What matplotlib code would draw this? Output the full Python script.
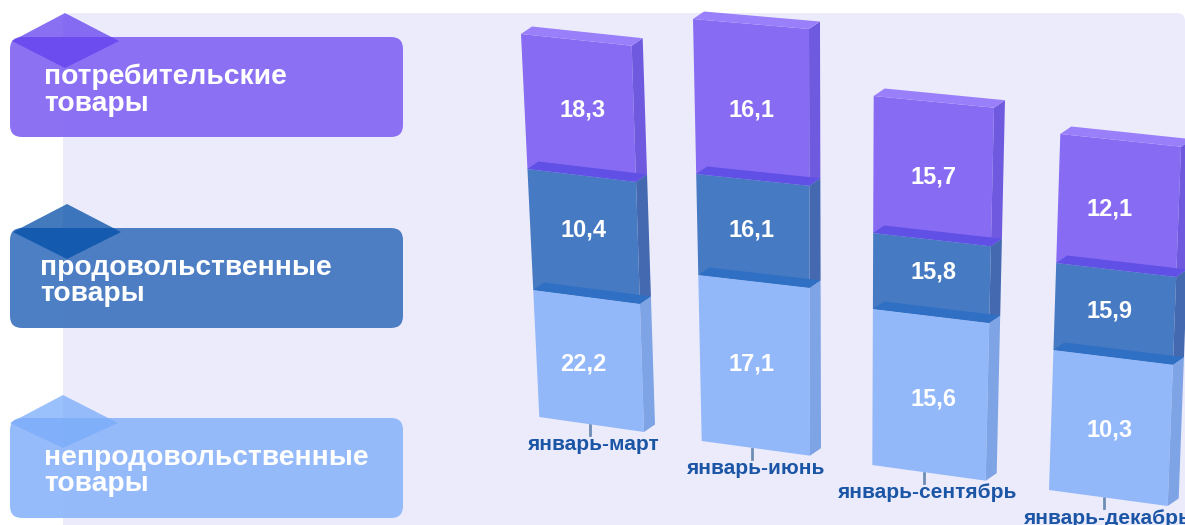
import matplotlib
matplotlib.use("Agg")
import matplotlib.pyplot as plt
from matplotlib.patches import FancyBboxPatch, Polygon
import numpy as np

plt.rcParams["font.family"] = ["Liberation Sans", "DejaVu Sans"]

periods = ["январь-март", "январь-июнь", "январь-сентябрь", "январь-декабрь"]
series_names = ["непродовольственные\nтовары", "продовольственные\nтовары", "потребительские\nтовары"]

# printed values, bottom segment to top segment
non_food = ["22,2", "17,1", "15,6", "10,3"]
food = ["10,4", "16,1", "15,8", "15,9"]
consumer = ["18,3", "16,1", "15,7", "12,1"]

# the source bars are not drawn to scale with their labels, so the heights
# are read off the picture separately (pixels on the left edge)
non_food_height = [127, 166, 156, 140]
food_height = [121, 101, 76, 87]
consumer_height = [135, 155, 137, 129]

# bar layout
base_y = [417, 441, 465, 490]
left_bottom = [539.3, 701.7, 872.3, 1049]
left_top = [521, 693, 873.7, 1060.3]
width_bottom = [104.7, 108.3, 113.4, 118.7]
width_top = [110.7, 116, 120.3, 120.7]
slant_bottom = [15, 14.7, 15.7, 16]
slant_top = [11.7, 10, 11.7, 12.7]
depth_x, depth_y = 11, -7.5

label_x = [583, 752, 933, 1110]
label_y = [[364, 230, 110], [364, 230, 110], [399, 272, 177], [430, 311, 209]]
period_x = [593, 755, 927, 1107]
period_y = [445, 468, 493, 519]

front_colors = ["#92B8FA", "#467AC2", "#876BF3"]
side_colors = ["#7EA4E5", "#4469B0", "#6F59DF"]
top_colors = ["#2F6FC4", "#6050E6", "#9A7FFB"]

box_tops = [418, 228, 37]
text_left = [44, 40, 44]
diamonds = [(63, 395, 448, 10, 118, 423), (67, 204, 259, 13, 121, 232), (65, 13, 68, 12, 119, 41)]
diamond_colors = ["#7AACFB", "#024EA7", "#6240EE"]

fig = plt.figure(figsize=(11.85, 5.25), dpi=100)
ax = fig.add_axes([0, 0, 1, 1])
ax.set_xlim(0, 1185)
ax.set_ylim(525, 0)
ax.axis("off")

ax.add_patch(FancyBboxPatch((71, 21), 1106, 540, boxstyle="round,pad=8,rounding_size=8",
                            fc="#ECEBFB", ec="none", zorder=1))

# legend boxes
for i, name in enumerate(series_names):
    ax.add_patch(FancyBboxPatch((22, box_tops[i] + 12), 369, 76, boxstyle="round,pad=12,rounding_size=12",
                                fc=front_colors[i], ec="none", alpha=0.96, zorder=2))
    cx, top, bottom, left, right, mid = diamonds[i]
    ax.add_patch(Polygon([(cx, top), (right, mid), (cx, bottom), (left, mid)],
                         fc=diamond_colors[i], ec="none", alpha=0.75, zorder=3))
    ax.text(text_left[i], box_tops[i] + 53, name, color="white", fontsize=20.3, fontweight="bold",
            ha="left", va="center", linespacing=1.03, zorder=4)

heights = np.array([non_food_height, food_height, consumer_height])
labels = [non_food, food, consumer]


def edge_points(b, level):
    # front face corners at a given height above the bar's base
    frac = level / heights[:, b].sum()
    lx = left_bottom[b] + (left_top[b] - left_bottom[b]) * frac
    w = width_bottom[b] + (width_top[b] - width_bottom[b]) * frac
    s = slant_bottom[b] + (slant_top[b] - slant_bottom[b]) * frac
    ly = base_y[b] - level
    return (lx, ly), (lx + w, ly + s)


for b in range(len(periods)):
    levels = np.concatenate([[0], np.cumsum(heights[:, b])])
    ax.plot([period_x[b] - 3] * 2, [base_y[b] + 8, base_y[b] + 18], color="#6E8DB5", lw=2, zorder=2)

    # upper segments first so the top strip of the lower one lies over them
    for s in range(2, -1, -1):
        bl, br = edge_points(b, levels[s])
        tl, tr = edge_points(b, levels[s + 1])
        ax.add_patch(Polygon([bl, br, tr, tl], fc=front_colors[s], ec="none", zorder=5))
        ax.add_patch(Polygon([br, (br[0] + depth_x, br[1] + depth_y), (tr[0] + depth_x, tr[1] + depth_y), tr],
                             fc=side_colors[s], ec="none", zorder=5))
        ax.add_patch(Polygon([tl, tr, (tr[0] + depth_x, tr[1] + depth_y), (tl[0] + depth_x, tl[1] + depth_y)],
                             fc=top_colors[s], ec="none", zorder=5))
        ax.text(label_x[b], label_y[b][s], labels[s][b], color="white", fontsize=17, fontweight="bold",
                ha="center", va="center", zorder=7)

    ax.text(period_x[b], period_y[b], periods[b], color="#1B55A5", fontsize=15, fontweight="bold",
            ha="center", va="center", zorder=7)

fig.savefig("out.png", dpi=100)
